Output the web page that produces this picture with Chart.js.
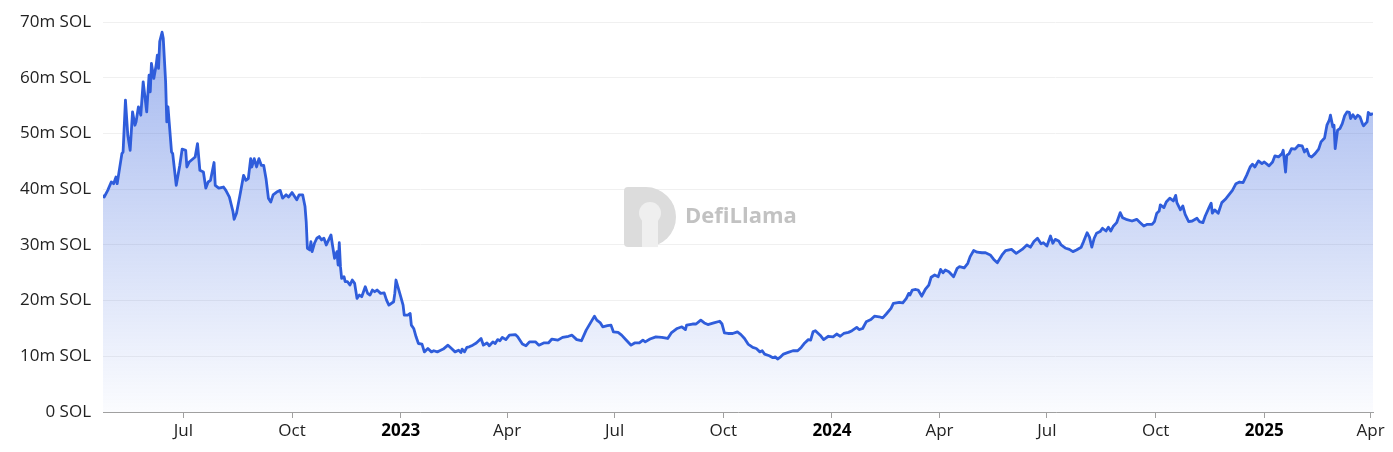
<!DOCTYPE html>
<html>
<head>
<meta charset="utf-8">
<title>SOL TVL</title>
<script src="https://cdn.jsdelivr.net/npm/chart.js@4.4.1/dist/chart.umd.min.js"></script>
<style>
  html, body { margin: 0; padding: 0; background: #ffffff; }
  #wrap { position: relative; width: 1393px; height: 452px; }
</style>
</head>
<body>
<div id="wrap"><canvas id="tvlChart"></canvas></div>
<script>
// TVL in SOL (millions) — one area series, Apr 2022 → Apr 2025.
// x values are days counted from SERIES_ORIGIN.
const SERIES_ORIGIN = '2022-07-01';
const X_FIRST_DAY = -68;
const X_LAST_DAY = 1007;

const dayOffsets = [
  -68, -67, -64, -61, -59, -57, -56, -54, -52, -51, -49, -47, -45, -43, -41, -40, -38, -36, -34, -31,
  -29, -28, -27, -25, -23, -22, -21, -20, -18, -17, -15, -14, -13, -12, -10, -9, -6, -3, -1, 2,
  3, 5, 10, 12, 14, 17, 19, 21, 23, 26, 27, 30, 34, 36, 39, 42, 43, 45, 48, 51,
  53, 55, 57, 58, 60, 62, 64, 66, 68, 70, 72, 74, 76, 79, 82, 84, 87, 89, 92, 96,
  98, 101, 103, 104, 105, 107, 108, 109, 111, 113, 115, 117, 119, 121, 125, 126, 128, 130, 131, 132,
  133, 134, 136, 137, 139, 141, 143, 145, 147, 149, 151, 154, 156, 158, 160, 162, 164, 167, 170, 172,
  174, 178, 179, 180, 182, 184, 186, 187, 190, 192, 193, 195, 197, 199, 202, 204, 207, 210, 212, 215,
  217, 220, 224, 227, 230, 233, 235, 236, 238, 240, 242, 245, 248, 252, 254, 257, 259, 262, 264, 266,
  268, 270, 273, 276, 281, 283, 287, 290, 293, 298, 301, 305, 309, 312, 317, 321, 326, 329, 333, 337,
  341, 346, 348, 350, 353, 355, 359, 362, 364, 368, 371, 375, 379, 382, 386, 389, 391, 395, 400, 405,
  410, 413, 418, 422, 425, 426, 431, 434, 438, 441, 444, 449, 454, 456, 458, 461, 465, 469, 472, 475,
  478, 482, 485, 488, 490, 492, 496, 499, 501, 503, 505, 508, 512, 516, 520, 523, 526, 529, 531, 533,
  535, 539, 542, 546, 550, 553, 556, 559, 563, 566, 570, 572, 575, 578, 582, 585, 589, 592, 595, 599,
  601, 606, 609, 612, 614, 615, 617, 620, 622, 625, 628, 631, 633, 636, 639, 641, 643, 645, 648, 652,
  655, 657, 661, 664, 666, 669, 672, 676, 679, 683, 686, 689, 693, 696, 701, 705, 710, 714, 717, 720,
  723, 726, 728, 731, 734, 736, 738, 741, 743, 747, 750, 753, 756, 760, 762, 765, 767, 769, 771, 773,
  776, 778, 781, 783, 785, 787, 790, 793, 795, 798, 803, 807, 810, 813, 816, 820, 822, 824, 826, 827,
  830, 832, 835, 838, 840, 841, 844, 846, 848, 851, 854, 858, 860, 863, 865, 868, 870, 871, 873, 876,
  879, 882, 885, 888, 891, 894, 897, 900, 903, 905, 907, 910, 913, 915, 919, 922, 924, 927, 930, 931,
  933, 934, 936, 938, 941, 944, 947, 949, 951, 953, 955, 958, 961, 963, 966, 968, 970, 971, 973, 974,
  975, 977, 979, 981, 983, 985, 987, 988, 990, 992, 994, 996, 998, 999, 1002, 1003, 1005, 1007
];

const tvlMillions = [
  39.0, 38.6, 39.8, 41.3, 41.0, 42.2, 41.0, 43.7, 46.4, 46.7, 56.0, 49.7, 47.0, 53.9, 51.5, 52.1, 54.8, 53.3, 59.3, 53.9,
  60.5, 57.5, 62.6, 59.9, 62.3, 64.1, 61.7, 66.5, 68.2, 67.1, 59.3, 52.1, 54.8, 52.1, 46.7, 46.4, 40.7, 44.3, 47.2, 47.0,
  44.0, 44.9, 45.8, 48.2, 43.4, 43.1, 40.2, 41.3, 41.6, 44.8, 40.7, 40.2, 40.4, 39.8, 38.6, 36.0, 34.6, 35.7, 39.0, 42.5,
  41.6, 41.9, 45.5, 44.0, 45.5, 44.0, 45.5, 44.3, 44.3, 41.9, 38.4, 37.7, 39.0, 39.5, 39.8, 38.4, 39.0, 38.6, 39.4, 38.1,
  39.0, 39.0, 36.9, 34.2, 29.4, 29.1, 30.6, 28.8, 30.3, 31.2, 31.5, 30.9, 31.2, 30.0, 31.8, 30.3, 27.6, 28.8, 26.4, 30.4,
  26.1, 24.0, 24.3, 23.4, 23.4, 22.8, 23.7, 23.1, 20.4, 21.0, 20.7, 22.5, 21.3, 21.0, 21.9, 21.6, 21.9, 21.3, 21.4, 20.1,
  19.2, 19.8, 21.3, 23.7, 22.2, 20.7, 19.2, 17.4, 17.4, 17.7, 15.6, 15.0, 13.5, 12.3, 12.2, 10.8, 11.4, 10.8, 11.0, 10.8,
  11.0, 11.3, 12.0, 11.4, 10.8, 11.1, 10.7, 11.3, 10.8, 11.6, 11.7, 12.0, 12.4, 13.2, 12.0, 12.4, 11.9, 12.6, 12.3, 13.0,
  12.8, 13.4, 13.0, 13.8, 13.9, 13.5, 12.2, 11.9, 12.6, 12.6, 12.0, 12.4, 12.4, 13.1, 12.9, 13.4, 13.6, 13.8, 13.0, 12.8,
  14.7, 16.5, 17.2, 16.5, 16.0, 15.3, 15.5, 15.6, 14.4, 14.3, 13.8, 12.9, 12.0, 12.4, 12.4, 12.9, 12.6, 13.1, 13.5, 13.4,
  13.2, 14.2, 15.0, 15.3, 14.8, 15.6, 15.8, 15.8, 16.5, 16.0, 15.7, 16.0, 16.3, 15.8, 14.2, 14.1, 14.1, 14.4, 13.9, 13.2,
  12.2, 11.6, 11.4, 10.8, 11.0, 10.4, 10.1, 9.75, 9.9, 9.5, 9.8, 10.4, 10.7, 11.0, 11.0, 11.6, 12.4, 13.0, 12.9, 14.4,
  14.6, 13.8, 13.0, 13.6, 13.5, 14.0, 13.6, 14.1, 14.3, 14.6, 15.2, 14.8, 15.0, 16.2, 16.6, 17.2, 17.1, 16.9, 17.6, 18.6,
  19.5, 19.7, 19.6, 20.4, 21.3, 21.0, 21.9, 22.0, 21.9, 20.8, 22.0, 22.8, 24.2, 24.6, 24.3, 25.6, 25.0, 25.5, 25.2, 24.3,
  25.8, 26.1, 25.9, 26.7, 27.9, 29.0, 28.7, 28.6, 28.6, 28.2, 27.4, 26.8, 28.2, 29.0, 29.2, 28.5, 29.2, 30.0, 29.6, 30.6,
  31.2, 30.2, 30.4, 29.8, 31.6, 30.3, 31.0, 30.7, 30.0, 29.4, 29.2, 28.8, 29.1, 29.6, 30.6, 32.2, 31.4, 29.6, 31.2, 32.1,
  32.4, 33.0, 32.5, 33.2, 32.5, 33.3, 34.0, 35.8, 34.9, 34.6, 34.3, 34.6, 34.0, 33.4, 33.7, 33.7, 34.2, 35.7, 36.1, 37.2,
  36.7, 37.7, 38.4, 37.9, 38.9, 37.6, 36.3, 37.0, 35.5, 34.2, 34.3, 34.8, 34.2, 34.0, 35.2, 36.6, 37.5, 35.7, 36.3, 35.7,
  37.6, 38.2, 39.0, 39.8, 41.0, 41.3, 41.2, 42.5, 44.0, 44.5, 44.0, 45.1, 44.6, 44.9, 44.2, 44.9, 46.0, 45.8, 46.4, 47.0,
  43.1, 46.1, 46.4, 47.3, 47.2, 47.9, 47.8, 46.7, 47.2, 46.0, 45.8, 46.4, 47.2, 48.5, 49.2, 51.5, 52.4, 53.3, 51.2, 51.5,
  47.3, 50.6, 50.9, 51.8, 53.2, 53.9, 53.8, 52.7, 53.4, 52.7, 53.3, 53.0, 51.8, 51.4, 52.1, 53.8, 53.4, 53.6
];

const xTickDates = [
  '2022-07-01', '2022-10-01', '2023-01-01', '2023-04-01', '2023-07-01', '2023-10-01',
  '2024-01-01', '2024-04-01', '2024-07-01', '2024-10-01', '2025-01-01', '2025-04-01'
];
const MONTH_NAMES = ['Jan', 'Feb', 'Mar', 'Apr', 'May', 'Jun', 'Jul', 'Aug', 'Sep', 'Oct', 'Nov', 'Dec'];
const yTickValues = [0, 10, 20, 30, 40, 50, 60, 70];

const DAY_MS = 86400000;
const originMs = Date.parse(SERIES_ORIGIN + 'T00:00:00Z');
const toDay = iso => Math.round((Date.parse(iso + 'T00:00:00Z') - originMs) / DAY_MS);
const tickDays = xTickDates.map(toDay);
const tickLabelFor = day => {
  const d = new Date(originMs + day * DAY_MS);
  return d.getUTCMonth() === 0 ? String(d.getUTCFullYear()) : MONTH_NAMES[d.getUTCMonth()];
};
const isYearTick = day => new Date(originMs + day * DAY_MS).getUTCMonth() === 0;
// scriptable tick options can be resolved without a tick in the context
const yearCtx = c => !!(c && c.tick) && isYearTick(c.tick.value);

const LINE_COLOR = '#2f5ddb';
const FONT = "'Open Sans', 'Noto Sans', sans-serif";
const LABEL_SIZE = 17;

// faint DefiLlama mark in the middle of the plot
const watermark = {
  id: 'watermark',
  beforeDatasetsDraw(chart) {
    const { ctx, chartArea } = chart;
    const cx = (chartArea.left + chartArea.right) / 2;
    const cy = (chartArea.top + chartArea.bottom) / 2;
    ctx.save();
    // "D" badge
    const lx = cx - 114, ly = cy - 30, h = 60, r = h / 2;
    ctx.fillStyle = '#dcdcdc';
    ctx.beginPath();
    ctx.moveTo(lx + 4, ly);
    ctx.lineTo(lx + 22, ly);
    ctx.arc(lx + 22, ly + r, r, -Math.PI / 2, Math.PI / 2);
    ctx.lineTo(lx + 4, ly + h);
    ctx.quadraticCurveTo(lx, ly + h, lx, ly + h - 4);
    ctx.lineTo(lx, ly + 4);
    ctx.quadraticCurveTo(lx, ly, lx + 4, ly);
    ctx.fill();
    ctx.fillStyle = '#efefef';
    ctx.beginPath();
    ctx.arc(lx + 26, ly + r - 4, 11, 0, Math.PI * 2);
    ctx.fill();
    ctx.fillRect(lx + 18, ly + r, 16, r);
    ctx.fillStyle = '#9a9a9a';
    ctx.globalAlpha = 0.6;
    ctx.font = "bold 22px " + FONT;
    ctx.textBaseline = 'middle';
    ctx.fillText('DefiLlama', lx + 61, cy);
    ctx.restore();
  }
};

const ctx = document.getElementById('tvlChart').getContext('2d');
new Chart(ctx, {
  type: 'line',
  data: {
    datasets: [{
      label: 'TVL',
      data: dayOffsets.map((d, i) => ({ x: d, y: tvlMillions[i] })),
      borderColor: LINE_COLOR,
      borderWidth: 2.8,
      borderJoinStyle: 'round',
      pointRadius: 0,
      tension: 0,
      fill: 'origin',
      backgroundColor: c => {
        const area = c.chart.chartArea;
        if (!area) return 'rgba(47,93,219,0.3)';
        const g = c.chart.ctx.createLinearGradient(0, area.top, 0, area.bottom);
        g.addColorStop(0, 'rgba(47,93,219,0.45)');
        g.addColorStop(1, 'rgba(47,93,219,0.02)');
        return g;
      }
    }]
  },
  options: {
    responsive: true,
    maintainAspectRatio: false,
    animation: false,
    layout: { padding: { left: 0, right: 20, top: 13, bottom: 0 } },
    plugins: {
      legend: { display: false },
      tooltip: { enabled: false }
    },
    scales: {
      x: {
        type: 'linear',
        min: X_FIRST_DAY,
        max: X_LAST_DAY,
        afterBuildTicks: scale => { scale.ticks = tickDays.map(v => ({ value: v })); },
        afterFit: scale => { scale.height = 40; },
        border: { display: true, color: '#a0a0a0', width: 1 },
        grid: { drawOnChartArea: false, drawTicks: true, tickLength: 6, color: '#a0a0a0' },
        ticks: {
          autoSkip: false,
          maxRotation: 0,
          padding: 3,
          color: c => yearCtx(c) ? '#000' : '#222',
          font: c => ({ family: FONT, size: LABEL_SIZE, weight: yearCtx(c) ? 'bold' : 'normal' }),
          callback: v => tickLabelFor(v)
        }
      },
      y: {
        min: 0,
        max: 70,
        afterBuildTicks: scale => { scale.ticks = yTickValues.map(v => ({ value: v })); },
        afterFit: scale => { scale.width = 103; },
        border: { display: false },
        grid: { color: '#f0f0f0', drawTicks: false },
        ticks: {
          padding: 12,
          color: '#222',
          font: { family: FONT, size: LABEL_SIZE },
          callback: v => (v === 0 ? '0' : v + 'm') + ' SOL'
        }
      }
    }
  },
  plugins: [watermark]
});
</script>
</body>
</html>
